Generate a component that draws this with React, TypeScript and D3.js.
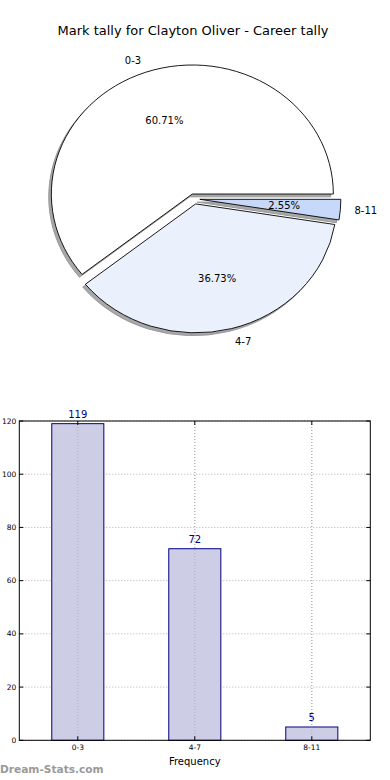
import React from "react";
import * as d3 from "d3";

const categories = ["0-3", "4-7", "8-11"];
const counts = [119, 72, 5];
const pctLabels = ["60.71%", "36.73%", "2.55%"];
const pieColors = ["#ffffff", "#eaf1fd", "#c6d9fb"];
const yTicks = [0, 20, 40, 60, 80, 100, 120];
const title = "Mark tally for Clayton Oliver - Career tally";

const W = 390;
const H = 780;

export default function App() {
  // Pie geometry
  const cx = 194.2, cy = 198.9, rx = 141, ry = 129;
  const explode = 0.04;
  const pie = d3
    .pie<number>()
    .sort(null)
    .value((d) => d)
    .startAngle(Math.PI / 2)
    .endAngle(Math.PI / 2 - 2 * Math.PI);
  const arcs = pie(counts);
  const arcGen = d3.arc<d3.PieArcDatum<number>>().innerRadius(0).outerRadius(1);

  // Bar chart geometry
  const left = 19.3, right = 370.3, top = 421, bottom = 740.3;
  const x = d3.scaleLinear().domain([-0.5, 2.5]).range([left, right]);
  const y = d3.scaleLinear().domain([0, 120]).range([bottom, top]);
  const barW = x(0.445) - x(0);

  return (
    <svg
      width={W}
      height={H}
      style={{ position: "absolute", left: 0, top: 0, background: "#fff" }}
      fontFamily="DejaVu Sans"
    >
      <rect width={W} height={H} fill="#fff" />
      <text x={193} y={34.5} fontSize={13} textAnchor="middle" fill="#000">
        {title}
      </text>
      {/* Pie */}
      {arcs.map((a, i) => {
        const am = (a.startAngle + a.endAngle) / 2;
        const ox = explode * Math.sin(am);
        const oy = -explode * Math.cos(am);
        return (
          <g key={"s" + i} transform={`translate(${cx},${cy}) scale(${rx},${ry})`}>
            <g transform={`translate(${ox - 2.6 / rx},${oy + 2.8 / ry})`}>
              <path
                d={arcGen(a) || ""}
                fill="#7a7a7a"
                fillOpacity={0.65}
                stroke="#999"
                strokeWidth={1}
                vectorEffect="non-scaling-stroke"
              />
            </g>
          </g>
        );
      })}
      {arcs.map((a, i) => {
        const am = (a.startAngle + a.endAngle) / 2;
        const ox = explode * Math.sin(am);
        const oy = -explode * Math.cos(am);
        return (
          <g key={"w" + i} transform={`translate(${cx},${cy}) scale(${rx},${ry})`}>
            <g transform={`translate(${ox},${oy})`}>
              <path
                d={arcGen(a) || ""}
                fill={pieColors[i]}
                stroke="#000"
                strokeWidth={0.9}
                strokeLinejoin="round"
                vectorEffect="non-scaling-stroke"
              />
            </g>
          </g>
        );
      })}
      {arcs.map((a, i) => {
        const am = (a.startAngle + a.endAngle) / 2;
        const sx = Math.sin(am), sy = -Math.cos(am);
        const lx = cx + (1.1 + explode) * rx * sx;
        const ly = cy + (1.1 + explode) * ry * sy;
        const px = cx + (0.6 + explode) * rx * sx;
        const py = cy + (0.6 + explode) * ry * sy;
        return (
          <g key={"l" + i} fontSize={10} fill="#000">
            <text x={lx} y={ly} dy="0.35em" textAnchor={sx < 0 ? "end" : "start"}>
              {categories[i]}
            </text>
            <text x={px} y={py} dy="0.35em" textAnchor="middle">
              {pctLabels[i]}
            </text>
          </g>
        );
      })}

      {/* Bar chart */}
      <g>
        {yTicks.map((t) => (
          <line
            key={"gy" + t}
            x1={left}
            x2={right}
            y1={y(t)}
            y2={y(t)}
            stroke="#b0b0b0"
            strokeWidth={1}
            strokeDasharray="1,2"
          />
        ))}
        {categories.map((c, i) => (
          <line
            key={"gx" + c}
            x1={x(i)}
            x2={x(i)}
            y1={top}
            y2={bottom}
            stroke="#b0b0b0"
            strokeWidth={1}
            strokeDasharray="1,2"
          />
        ))}
        {counts.map((v, i) => (
          <rect
            key={"b" + i}
            x={x(i) - barW / 2}
            y={y(v)}
            width={barW}
            height={y(0) - y(v)}
            stroke="#000080"
            strokeWidth={1}
            style={{ fill: "#cdcde5" }}
          />
        ))}
        {categories.map((c, i) => (
          <line
            key={"gx2" + c}
            x1={x(i)}
            x2={x(i)}
            y1={top}
            y2={bottom}
            stroke="#9a9ab0"
            strokeWidth={1}
            strokeDasharray="1,2"
            opacity={0.6}
          />
        ))}
        {counts.map((v, i) => (
          <text
            key={"v" + i}
            x={x(i)}
            y={y(v) - 5.5}
            fontSize={10}
            textAnchor="middle"
            fill="#000080"
          >
            {v}
          </text>
        ))}
        <rect
          x={left}
          y={top}
          width={right - left}
          height={bottom - top}
          fill="none"
          stroke="#000"
          strokeWidth={1}
        />
        {yTicks.map((t) => (
          <g key={"ty" + t}>
            <line x1={left} x2={left + 4} y1={y(t)} y2={y(t)} stroke="#000" />
            <line x1={right} x2={right - 4} y1={y(t)} y2={y(t)} stroke="#000" />
            <text x={left - 3} y={y(t)} dy="0.35em" fontSize={7.5} textAnchor="end" fill="#000">
              {t}
            </text>
          </g>
        ))}
        {categories.map((c, i) => (
          <g key={"tx" + c}>
            <line x1={x(i)} x2={x(i)} y1={bottom} y2={bottom - 4} stroke="#000" />
            <line x1={x(i)} x2={x(i)} y1={top} y2={top + 4} stroke="#000" />
            <text x={x(i)} y={bottom + 10} fontSize={7.5} textAnchor="middle" fill="#000">
              {c}
            </text>
          </g>
        ))}
        <text x={(left + right) / 2} y={765} fontSize={10} textAnchor="middle" fill="#000">
          Frequency
        </text>
      </g>
      <text x={0} y={772.5} fontSize={10.6} fontWeight="bold" fill="#9a9a9a">
        Dream-Stats.com
      </text>
    </svg>
  );
}
